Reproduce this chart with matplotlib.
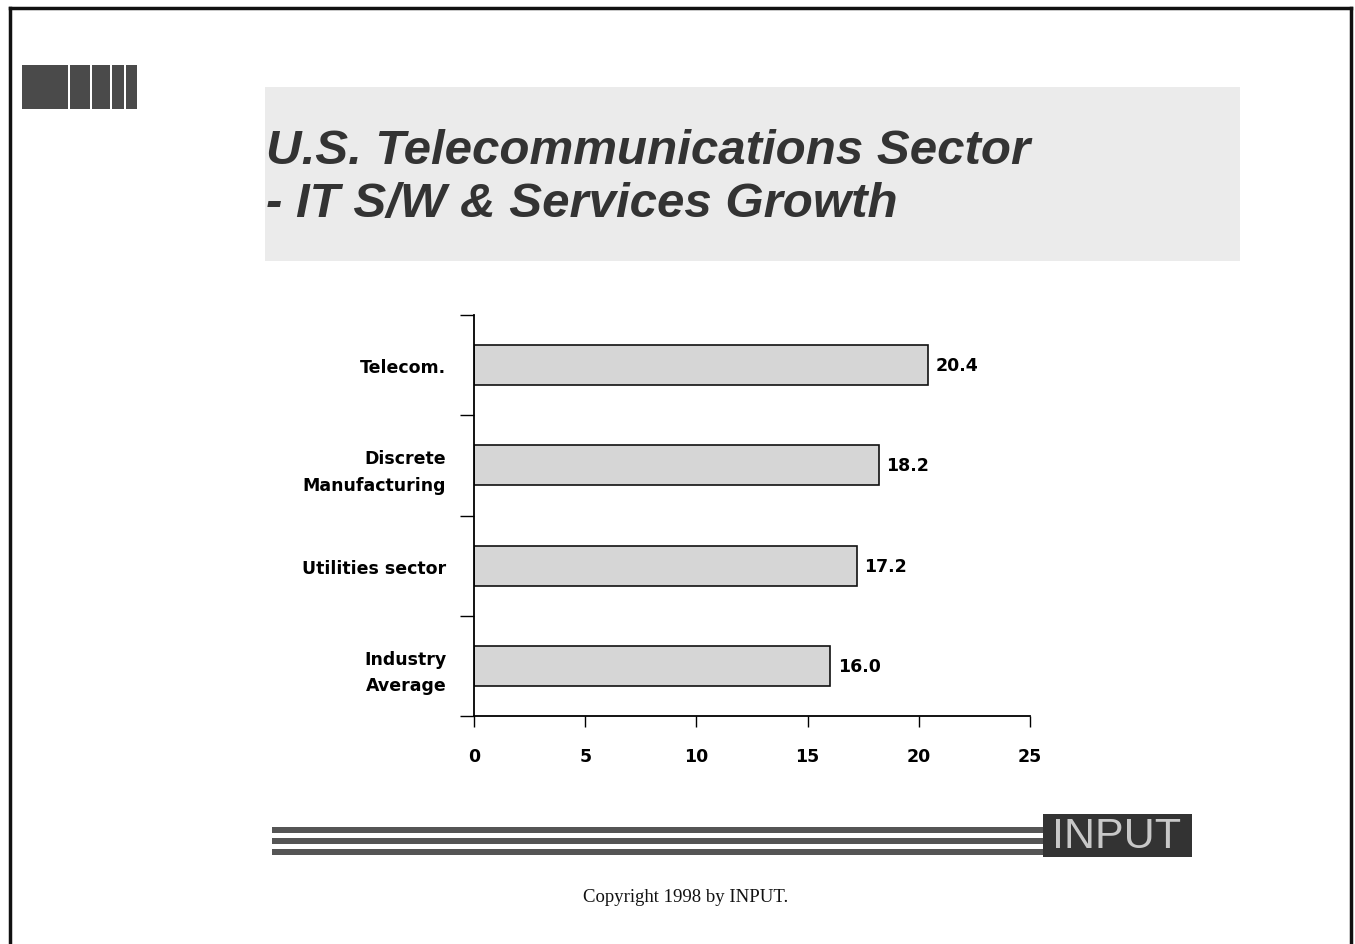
import matplotlib.pyplot as plt
from matplotlib.patches import Rectangle
import numpy as np

categories = ["Telecom.", "Discrete\nManufacturing", "Utilities sector", "Industry\nAverage"]
growth = [20.4, 18.2, 17.2, 16.0]
x_ticks = [0, 5, 10, 15, 20, 25]

plt.rcParams['font.family'] = ['Liberation Sans', 'DejaVu Sans']

fig = plt.figure(figsize=(13.55, 9.45), dpi=100)
W, H = 1355, 945

def box(x0, y0, x1, y1, **kw):
    # pixel coords (top-left origin) -> figure rectangle
    fig.patches.append(Rectangle((x0 / W, 1 - y1 / H), (x1 - x0) / W, (y1 - y0) / H,
                                 transform=fig.transFigure, **kw))

# page frame
fig.add_artist(plt.Line2D([10 / W, 10 / W], [0, 1 - 9 / H], color='#111111', lw=2.5, transform=fig.transFigure))
fig.add_artist(plt.Line2D([10 / W, 1351 / W], [1 - 9 / H, 1 - 9 / H], color='#111111', lw=2.5, transform=fig.transFigure))
fig.add_artist(plt.Line2D([1351 / W, 1351 / W], [0, 1 - 9 / H], color='#111111', lw=2.5, transform=fig.transFigure))

# logo blocks top left
for x0, x1 in [(22, 68), (70, 90), (92, 110), (112, 124), (126, 137)]:
    box(x0, 66, x1, 110, facecolor='#4a4a4a', edgecolor='none')

# title panel
box(265, 88, 1240, 262, facecolor='#ebebeb', edgecolor='none')
fig.text(266 / W, 1 - 151 / H, "U.S. Telecommunications Sector", fontsize=35.5, fontweight='bold',
         fontstyle='italic', color='#333333', va='center', ha='left')
fig.text(266 / W, 1 - 204 / H, "- IT S/W & Services Growth", fontsize=35.5, fontweight='bold',
         fontstyle='italic', color='#333333', va='center', ha='left')

lab = dict(family=['DejaVu Sans'], fontweight='bold', fontsize=12.5)

# bar chart
ax = fig.add_axes([474 / W, 1 - 717 / H, (1030 - 474) / W, (717 - 316) / H])
y = np.arange(len(categories))
ax.barh(y, growth, height=0.4, color='#d6d6d6', edgecolor='#111111', linewidth=1.2)
for yi, v in zip(y, growth):
    ax.text(v + 0.35, yi, f"{v:.1f}", va='center', ha='left', **lab)

ax.set_xlim(0, 25)
ax.set_ylim(len(categories) - 0.5, -0.5)
ax.set_xticks(x_ticks)
ax.set_xticklabels([str(t) for t in x_ticks], **lab)
ax.set_yticks(y)
ax.set_yticklabels(categories, linespacing=1.6, **lab)
ax.set_yticks(np.arange(len(categories) + 1) - 0.5, minor=True)
ax.tick_params(axis='y', which='major', length=0, pad=20)
ax.tick_params(axis='y', which='minor', length=10, width=1, direction='out')
ax.tick_params(axis='x', length=8, width=1, direction='out', pad=14)
for s in ['top', 'right']:
    ax.spines[s].set_visible(False)
for s in ['left', 'bottom']:
    ax.spines[s].set_linewidth(1.3)
ax.set_facecolor('none')

# bottom decoration
for yc in [831, 842, 853]:
    box(272, yc - 3, 1045, yc + 3, facecolor='#555555', edgecolor='none')
box(1043, 815, 1192, 858, facecolor='#333333', edgecolor='none')
fig.text(1117 / W, 1 - 837 / H, "INPUT", fontsize=31, color='#c8c8c8', ha='center', va='center')

fig.text(686 / W, 1 - 898 / H, "Copyright 1998 by INPUT.", fontsize=13.5, family='Liberation Serif',
         ha='center', va='center', color='#111111')

fig.savefig('out.png', dpi=100)
